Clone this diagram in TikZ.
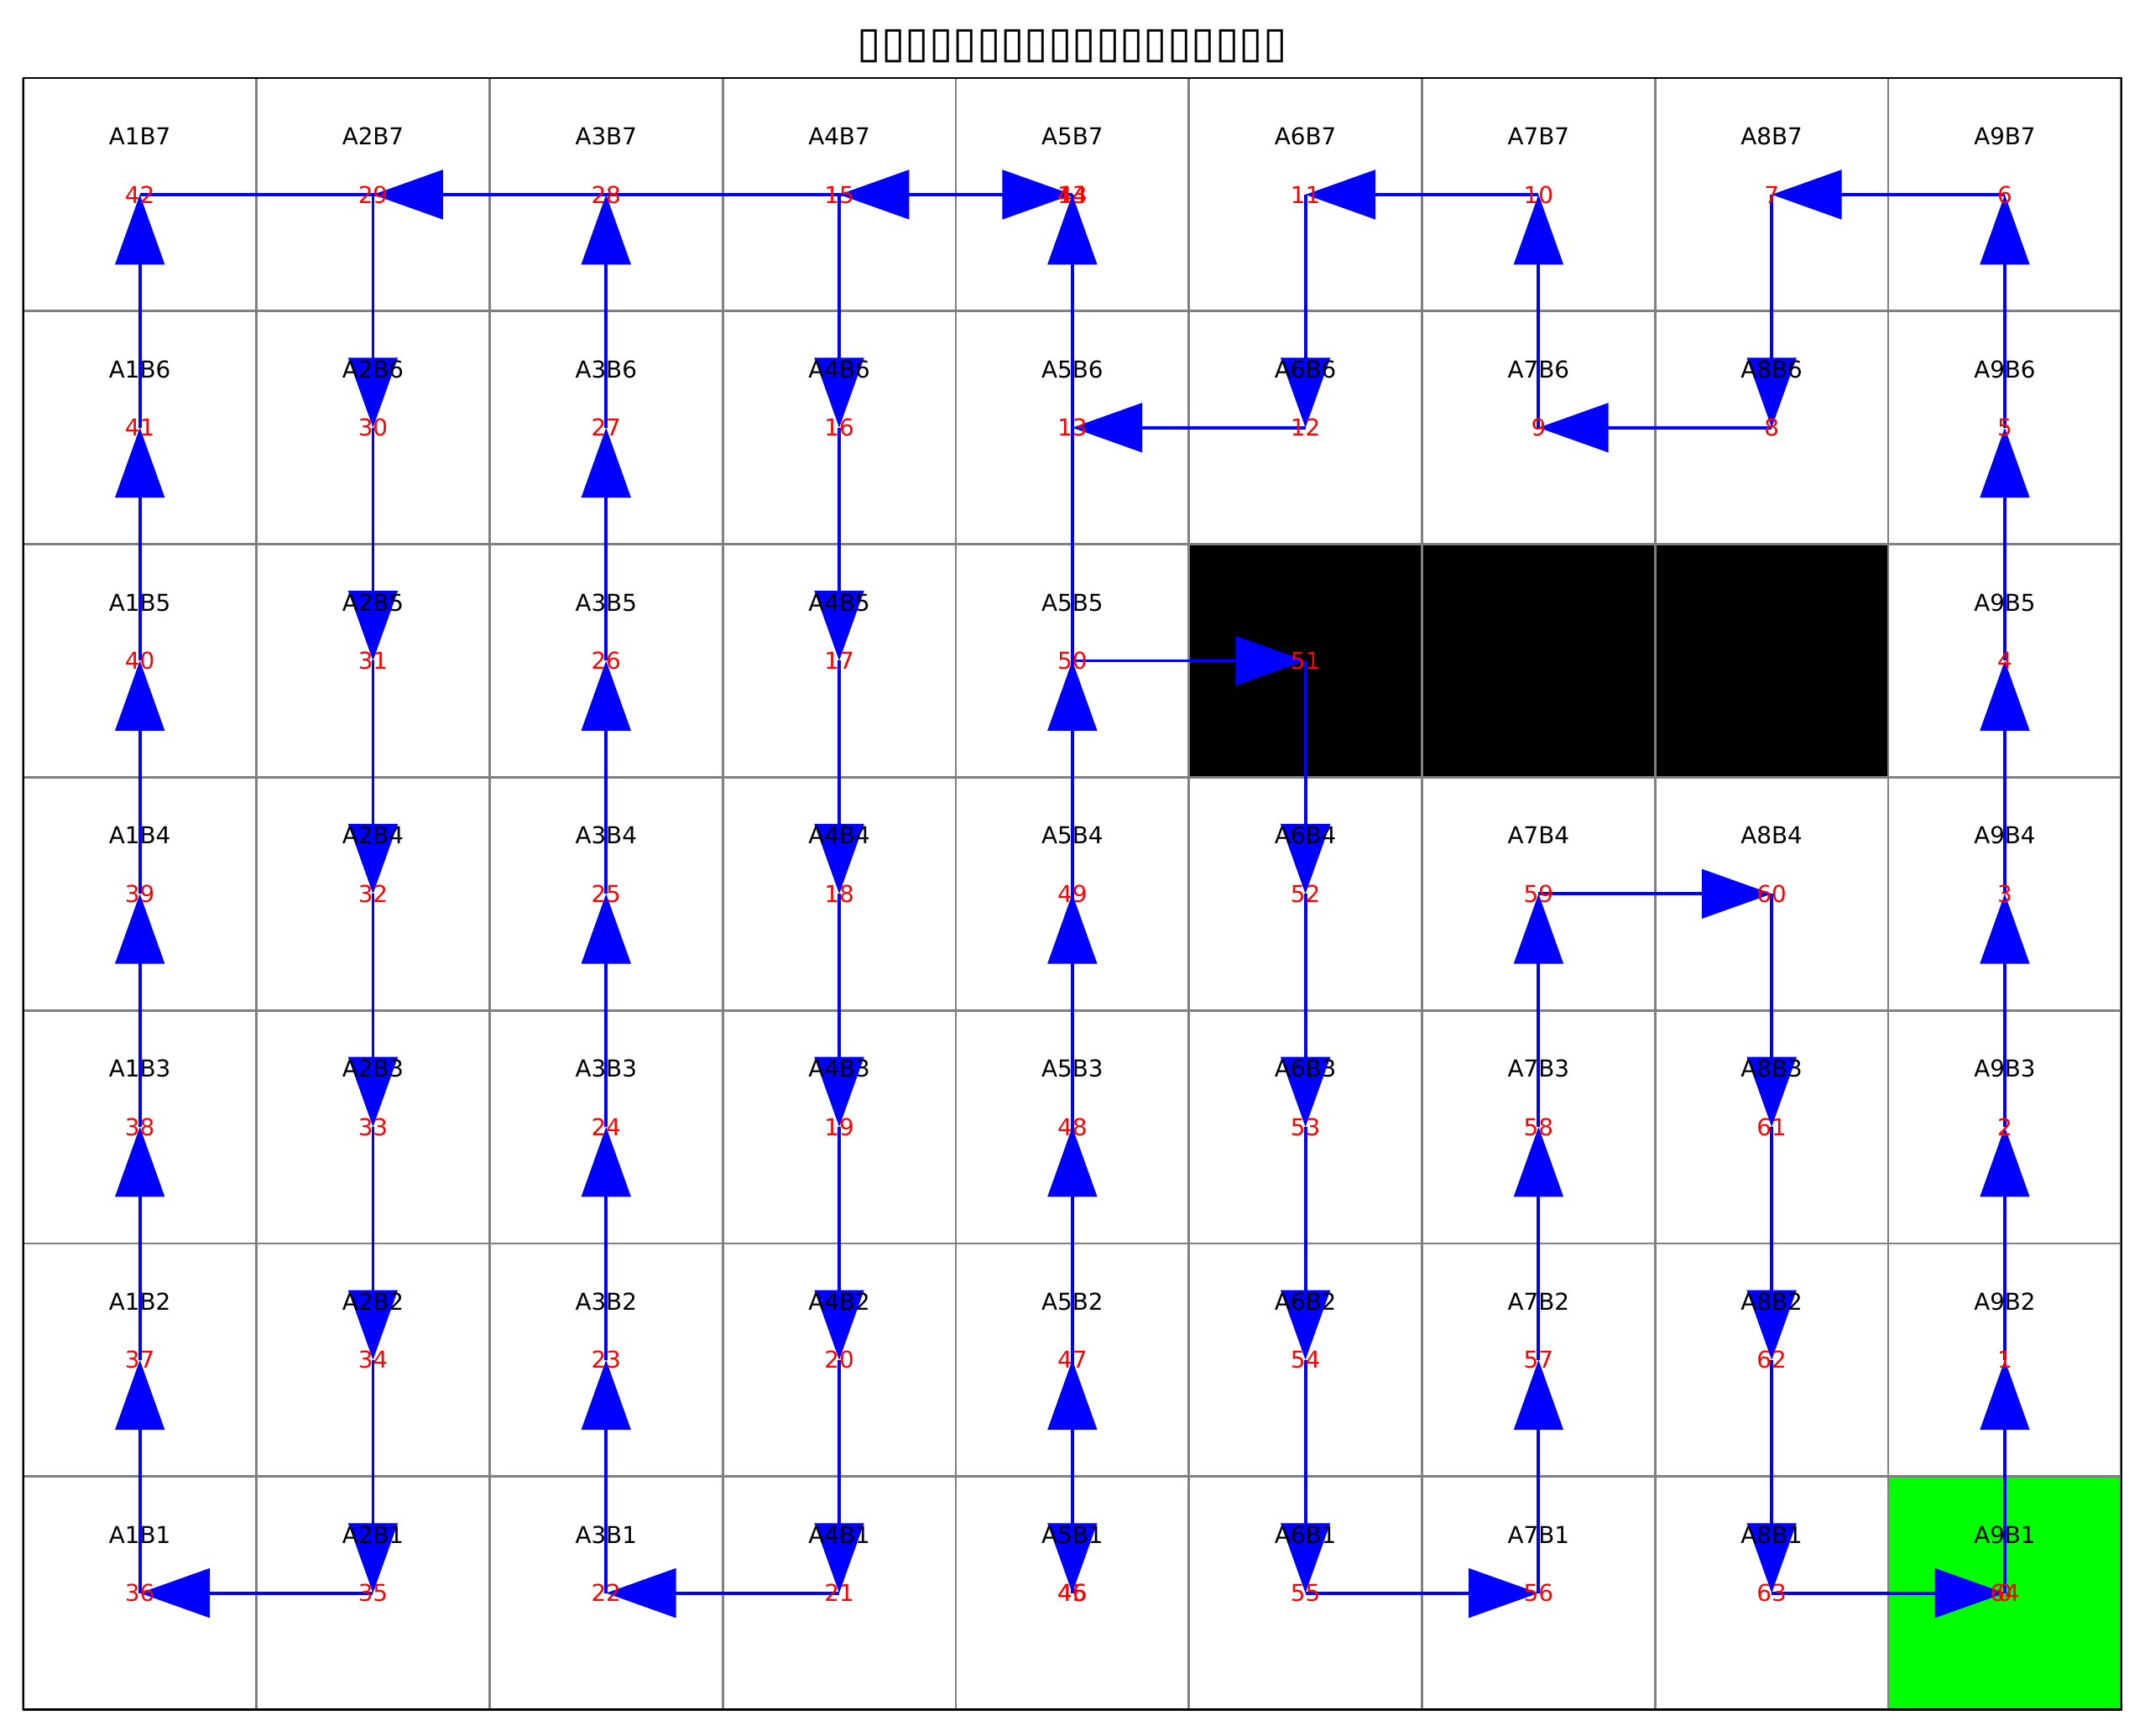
\documentclass[tikz,border=0pt]{standalone}
\usepackage{fontspec}
\setmainfont{DejaVu Sans}
\usepackage{xcolor}
\usepackage{tikz}
\usetikzlibrary{arrows.meta,backgrounds}
\definecolor{bleuChemin}{RGB}{0,0,255}
\definecolor{rougeNum}{RGB}{255,0,0}
\definecolor{vertArrivee}{RGB}{0,255,0}
\definecolor{grisGrille}{RGB}{128,128,128}
\pgfdeclarelayer{chemin}
\pgfsetlayers{background,chemin,main}
\tikzset{
  grille/.style={draw=grisGrille, line width=1pt, step=100pt},
  cadre/.style={draw=black, line width=0.9pt},
  etiquette/.style={
    font=\fontsize{10}{12}\selectfont, text height=7.3pt, text depth=0pt,
    inner sep=0pt},
  numero/.style={etiquette, text=rougeNum},
  fleche/.style={draw=bleuChemin, line width=1.4pt,
    -{Triangle[length=30pt,width=21pt]}},
  titre/.style={font=\fontsize{18.6}{21}\selectfont, inner sep=0pt}
}

\begin{document}
\begin{tikzpicture}[x=100pt, y=100pt]
  \useasboundingbox (-0.10,-0.113) rectangle (9.123,7.335);

  % --- Grille : obstacles, arrivee, traits
  \begin{pgfonlayer}{background}
    \fill[black] (5,4) rectangle (8,5);
    \fill[vertArrivee] (8,0) rectangle (9,1);
    \draw[grille] (0,0) grid (9,7);
    \draw[cadre] (0,0) rectangle (9,7);
  \end{pgfonlayer}

  % --- Titre
  \node[titre] (titre) at (4.5,7.135) {▯▯▯▯▯▯▯▯▯▯▯▯▯▯▯▯▯▯};

  % --- Noms des cases
  \foreach \i in {1,...,9}
    \foreach \j in {1,...,7} {
      \ifnum\j=5 \ifnum\i>5 \ifnum\i<9 \else
        \node[etiquette] (A\i-B\j) at (\i-0.5,\j-0.25) {A\i B\j};
      \fi \else
        \node[etiquette] (A\i-B\j) at (\i-0.5,\j-0.25) {A\i B\j};
      \fi \else
        \node[etiquette] (A\i-B\j) at (\i-0.5,\j-0.25) {A\i B\j};
      \fi
    }

  % --- Ordre de passage
  \foreach \n/\i/\j in {
      0/9/1, 1/9/2, 2/9/3, 3/9/4, 4/9/5, 5/9/6, 6/9/7, 7/8/7, 8/8/6, 9/7/6,
      10/7/7, 11/6/7, 12/6/6, 13/5/6, 14/5/7, 15/4/7, 16/4/6, 17/4/5, 18/4/4,
      19/4/3, 20/4/2, 21/4/1, 22/3/1, 23/3/2, 24/3/3, 25/3/4, 26/3/5, 27/3/6,
      28/3/7, 29/2/7, 30/2/6, 31/2/5, 32/2/4, 33/2/3, 34/2/2, 35/2/1, 36/1/1,
      37/1/2, 38/1/3, 39/1/4, 40/1/5, 41/1/6, 42/1/7, 43/5/7, 44/5/7, 45/5/1,
      46/5/1, 47/5/2, 48/5/3, 49/5/4, 50/5/5, 51/6/5, 52/6/4, 53/6/3, 54/6/2,
      55/6/1, 56/7/1, 57/7/2, 58/7/3, 59/7/4, 60/8/4, 61/8/3, 62/8/2, 63/8/1,
      64/9/1}
    \node[numero] (n\n) at (\i-0.5,\j-0.5) {\n};

  % --- Trajet
  \begin{pgfonlayer}{chemin}
    \foreach \a [evaluate=\a as \b using int(\a+1)] in {0,...,42,44,46,47,...,63}
      \draw[fleche] (n\a.center) -- (n\b.center);
  \end{pgfonlayer}

\end{tikzpicture}
\end{document}
